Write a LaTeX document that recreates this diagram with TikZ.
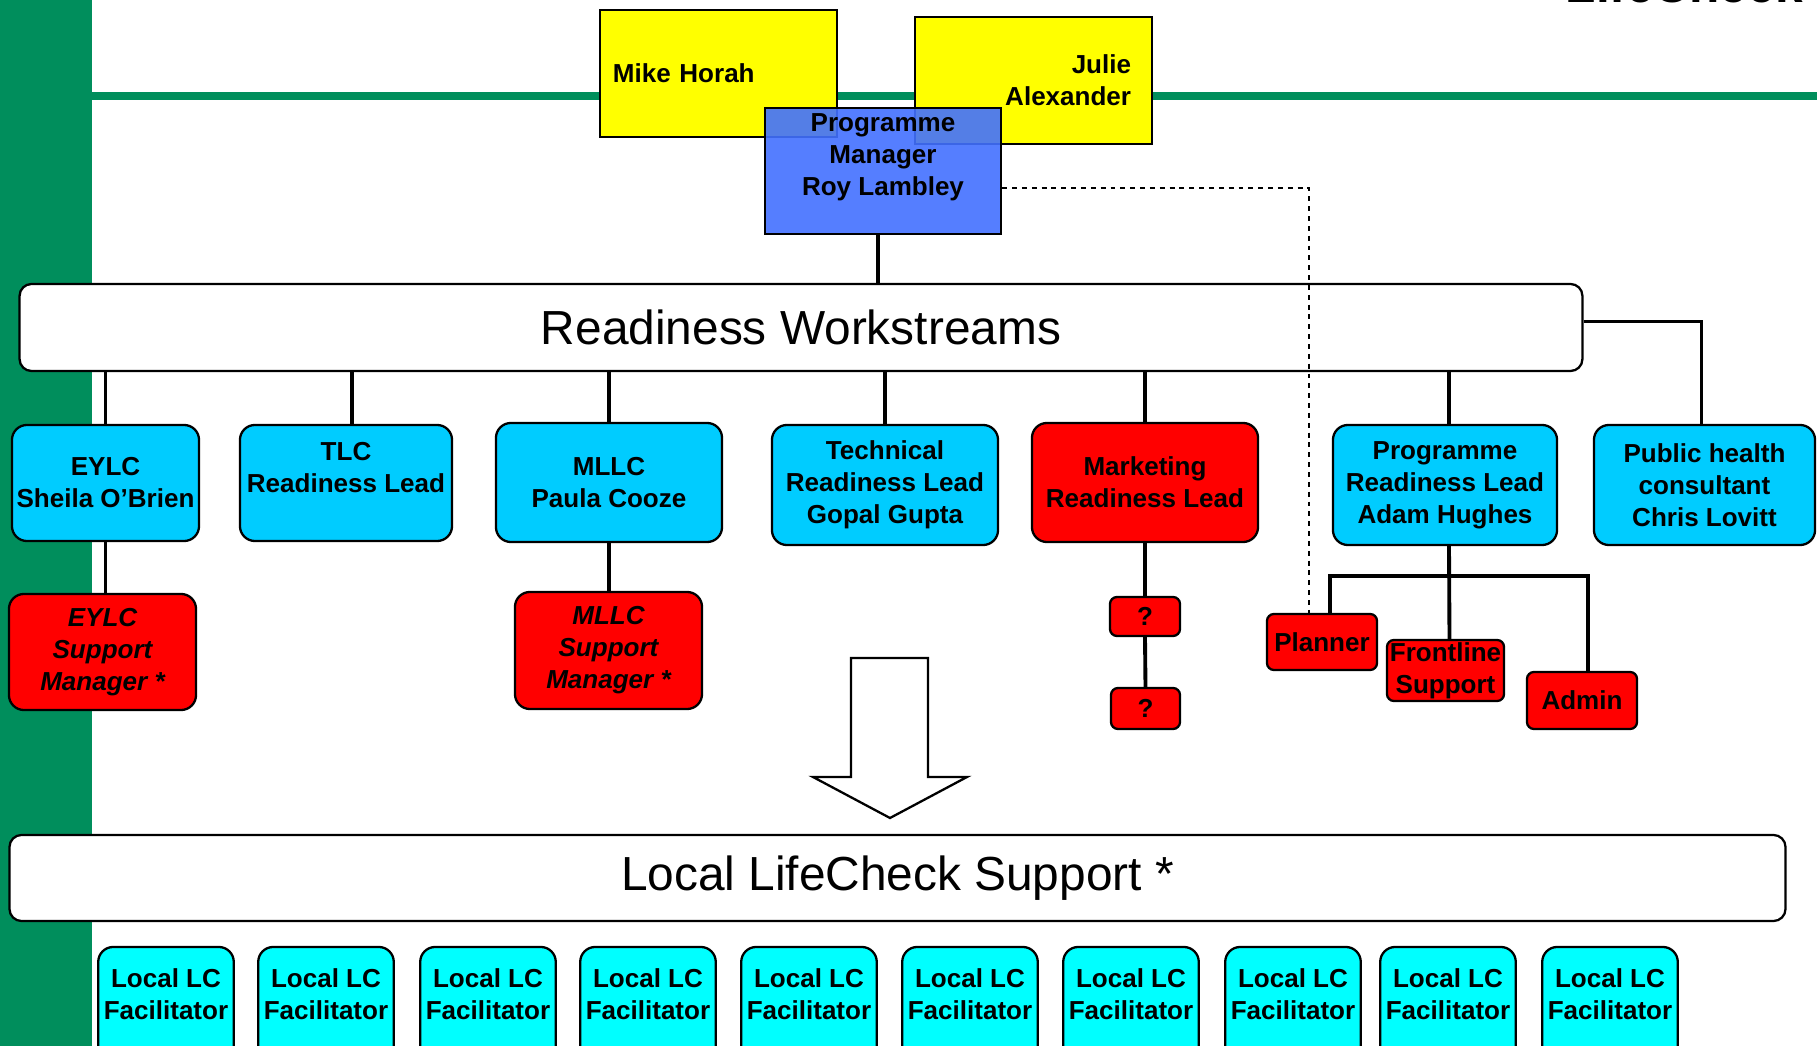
\documentclass[tikz,border=0pt]{standalone}
\usepackage{fontspec}
\setmainfont{Liberation Sans}
\definecolor{lcgreen}{RGB}{0,142,92}
\definecolor{lccyan}{RGB}{0,204,255}
\definecolor{lcaqua}{RGB}{0,255,255}
\definecolor{lcred}{RGB}{255,0,0}
\definecolor{lcyellow}{RGB}{255,255,0}
\definecolor{pmblue}{RGB}{66,112,255}
\begin{document}
\begin{tikzpicture}[x=0.01cm, y=-0.01cm,
  box/.style={draw, line width=0.65pt, align=center, inner sep=0pt,
    font=\bfseries\fontsize{7.4}{9.1}\selectfont},
  leadbox/.style={box, fill=lccyan, rounded corners=0.15cm},
  helpbox/.style={box, fill=lcred, rounded corners=0.15cm},
  smallbox/.style={box, fill=lcred, rounded corners=0.07cm},
  facbox/.style={box, fill=lcaqua, rounded corners=0.15cm, minimum width=1.355cm, minimum height=1.26cm},
  namebox/.style={box, fill=lcyellow, minimum width=2.37cm, minimum height=1.27cm},
  band/.style={draw, line width=0.65pt, fill=white, rounded corners=0.12cm, inner sep=0pt,
    font=\fontsize{13.6}{16}\selectfont},
  link/.style={line width=1.1pt}]
\useasboundingbox (0,0) rectangle (1817,1046);
\fill[lcgreen] (0,0) rectangle (92,1046);
\draw[lcgreen, line width=0.08cm] (80,96) -- (1817,96);
\node[font=\bfseries\fontsize{14.1}{17}\selectfont, anchor=base west, inner sep=0pt] (brand) at (1565,3) {LifeCheck};

\node[namebox, text width=2.11cm, align=left] (mike) at (718.5,73.5) {Mike Horah};
\node[namebox, text width=1.95cm, align=right] (julie) at (1033.5,80.5) {Julie\\Alexander};
\node[box, fill=pmblue, fill opacity=0.9, text opacity=1, minimum width=2.36cm, minimum height=1.26cm] (pm) at (883,171) {Programme\\Manager\\Roy Lambley\\\mbox{}};

\node[band, minimum width=15.62cm, minimum height=0.87cm] (rw) at (801,327.5) {Readiness Workstreams};

\node[leadbox, minimum width=1.87cm, minimum height=1.16cm] (eylc) at (105.5,483) {EYLC\\Sheila O’Brien};
\node[leadbox, minimum width=2.12cm, minimum height=1.16cm] (tlc) at (346,483) {TLC\\Readiness Lead\\\mbox{}};
\node[leadbox, minimum width=2.26cm, minimum height=1.19cm] (mllc) at (609,482.5) {MLLC\\Paula Cooze};
\node[leadbox, minimum width=2.26cm, minimum height=1.2cm] (tech) at (885,485) {Technical\\Readiness Lead\\Gopal Gupta};
\node[helpbox, minimum width=2.26cm, minimum height=1.19cm] (mkt) at (1145,482.5) {Marketing\\Readiness Lead};
\node[leadbox, minimum width=2.24cm, minimum height=1.2cm] (prl) at (1445,485) {Programme\\Readiness Lead\\Adam Hughes};
\node[leadbox, minimum width=2.21cm, minimum height=1.2cm] (ph) at (1704.5,485) {Public health\\consultant\\Chris Lovitt};

\node[helpbox, minimum width=1.87cm, minimum height=1.16cm] (eylcsm) at (102.5,652) {\itshape EYLC\\\itshape Support\\\itshape Manager *};
\node[helpbox, minimum width=1.87cm, minimum height=1.17cm] (mllcsm) at (608.5,650.5) {\itshape MLLC\\\itshape Support\\\itshape Manager *};
\node[smallbox, minimum width=0.7cm, minimum height=0.39cm] (q1) at (1145,616.5) {?};
\node[smallbox, minimum width=0.69cm, minimum height=0.41cm] (q2) at (1145.5,708.5) {?};
\node[smallbox, minimum width=1.1cm, minimum height=0.56cm] (planner) at (1322,642) {Planner};
\node[smallbox, minimum width=1.17cm, minimum height=0.61cm] (frontline) at (1445.5,670.5) {Frontline\\Support};
\node[smallbox, minimum width=1.1cm, minimum height=0.57cm] (admin) at (1582,700.5) {Admin};

\node[band, minimum width=17.75cm, minimum height=0.86cm] (llcs) at (897.5,878) {Local LifeCheck Support *};
\foreach \x [count=\i] in {166,326,488,648,809,970,1131,1293,1448,1610}
  \node[facbox] (llc\i) at (\x,1010) {Local LC\\Facilitator\\\mbox{}};

\draw[line width=0.65pt, fill=white] (851,658) -- (928,658) -- (928,777) -- (967,777)
  -- (890,818) -- (813,777) -- (851,777) -- cycle;

\draw[link] ([xshift=-0.05cm]pm.south) -- ([xshift=-0.05cm]pm.south |- rw.north);
\draw[link] (eylc.north |- rw.south) -- (eylc.north);
\draw[link] ([xshift=0.06cm]tlc.north |- rw.south) -- ([xshift=0.06cm]tlc.north);
\draw[link] (mllc.north |- rw.south) -- (mllc.north);
\draw[link] (tech.north |- rw.south) -- (tech.north);
\draw[link] (mkt.north |- rw.south) -- (mkt.north);
\draw[link] ([xshift=0.04cm]prl.north |- rw.south) -- ([xshift=0.04cm]prl.north);
\draw[link] ([yshift=0.06cm]rw.east) -| ([xshift=-0.03cm]ph.north);
\draw[link] (eylc.south) -- (eylc.south |- eylcsm.north);
\draw[link] (mllc.south) -- (mllc.south |- mllcsm.north);
\draw[link] (mkt.south) -- (q1.north);
\draw[link] (q1.south) -- (q2.north);
\coordinate (prlbar) at (1449,576);
\draw[link] ([xshift=0.04cm]prl.south) -- ([xshift=0.04cm]frontline.north);
\draw[link] ([xshift=0.08cm]planner.north) |- (prlbar) -| ([xshift=0.06cm]admin.north);
\draw[line width=0.5pt, dash pattern=on 1.4pt off 1.4pt] ([yshift=-0.17cm]pm.east) -| ([xshift=-0.13cm]planner.north);
\end{tikzpicture}
\end{document}
